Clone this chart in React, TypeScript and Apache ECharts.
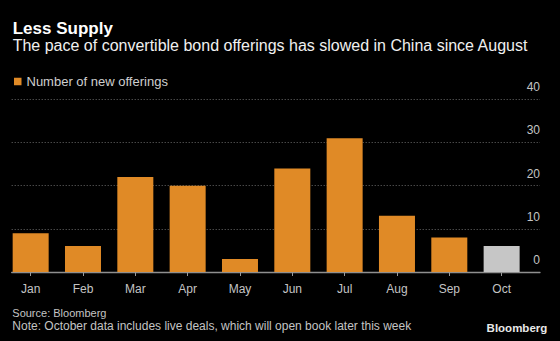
import React, { useEffect, useRef } from "react";
import * as echarts from "echarts";

const months = ["Jan", "Feb", "Mar", "Apr", "May", "Jun", "Jul", "Aug", "Sep", "Oct"];
const newOfferings = [9, 6, 22, 20, 3, 24, 31, 13, 8, 6];
const liveMonth = "Oct";
const yMin = 0;
const yMax = 40;
const yInterval = 10;

const titleText = "Less Supply";
const subtitleText = "The pace of convertible bond offerings has slowed in China since August";
const legendName = "Number of new offerings";
const sourceText = "Source: Bloomberg";
const noteText = "Note: October data includes live deals, which will open book later this week";
const brandText = "Bloomberg";

const ORANGE = "#e08a26";
const GREY_BAR = "#c6c6c6";
const FONT = "'Liberation Sans', Arial, sans-serif";

export default function App() {
  const ref = useRef<HTMLDivElement>(null);

  useEffect(() => {
    document.body.style.margin = "0";
    document.body.style.background = "#000";
    if (!ref.current) return;
    const chart = echarts.init(ref.current, undefined, { renderer: "svg" });

    const barData = newOfferings.map((v, i) =>
      months[i] === liveMonth ? { value: v, itemStyle: { color: GREY_BAR } } : v
    );

    chart.setOption({
      animation: false,
      backgroundColor: "#000",
      textStyle: { fontFamily: FONT },
      legend: {
        data: [{ name: legendName, icon: "rect" }],
        left: 14,
        top: 75,
        padding: 0,
        itemWidth: 7.5,
        itemHeight: 7.5,
        itemGap: 5,
        textStyle: { color: "#cfcfcf", fontSize: 13, fontFamily: FONT },
      },
      grid: [
        { left: 11.7, right: 20, top: 99.3, bottom: 69, containLabel: false },
        { left: 4.5, right: 32.2, top: 99.3, bottom: 69, containLabel: false },
      ],
      xAxis: [
        {
          gridIndex: 0,
          type: "value",
          min: 0,
          max: 1,
          axisLine: { show: true, lineStyle: { color: "#8f8f8f", width: 1.3 } },
          axisTick: { show: false },
          axisLabel: { show: false },
          splitLine: { show: false },
        },
        {
          gridIndex: 1,
          type: "category",
          data: months,
          axisLine: { show: false },
          axisTick: {
            show: true,
            alignWithLabel: true,
            length: 4,
            lineStyle: { color: "#9a9a9a", width: 1 },
          },
          axisLabel: { color: "#c4c4c4", fontSize: 12, margin: 11, fontFamily: FONT },
        },
      ],
      yAxis: [
        {
          gridIndex: 0,
          type: "value",
          position: "right",
          min: yMin,
          max: yMax,
          interval: yInterval,
          axisLine: { show: false },
          axisTick: { show: false },
          axisLabel: {
            inside: true,
            margin: 0,
            color: "#c4c4c4",
            fontSize: 12,
            verticalAlign: "bottom",
            padding: [0, 0, 6, 0],
            fontFamily: FONT,
          },
          splitLine: { show: true, lineStyle: { color: "#6a6a6a", width: 1, type: [1, 2] } },
        },
        {
          gridIndex: 1,
          type: "value",
          min: yMin,
          max: yMax,
          interval: yInterval,
          show: false,
          splitLine: { show: false },
        },
      ],
      series: [
        {
          name: legendName,
          type: "bar",
          xAxisIndex: 1,
          yAxisIndex: 1,
          data: barData,
          barWidth: 36,
          itemStyle: { color: ORANGE },
          z: 1,
        },
      ],
      graphic: [
        {
          type: "text",
          x: 12.7,
          y: 28,
          style: {
            text: titleText,
            fill: "#ffffff",
            font: `bold 17px ${FONT}`,
            verticalAlign: "middle",
            align: "left",
          },
        },
        {
          type: "text",
          x: 12.7,
          y: 45,
          style: {
            text: subtitleText,
            fill: "#f0f0f0",
            font: `16px ${FONT}`,
            verticalAlign: "middle",
            align: "left",
          },
        },
        {
          type: "text",
          x: 12.3,
          y: 313.3,
          style: {
            text: sourceText,
            fill: "#c4c4c4",
            font: `11px ${FONT}`,
            verticalAlign: "middle",
            align: "left",
          },
        },
        {
          type: "text",
          x: 12.3,
          y: 326,
          style: {
            text: noteText,
            fill: "#c4c4c4",
            font: `12px ${FONT}`,
            verticalAlign: "middle",
            align: "left",
          },
        },
        {
          type: "text",
          x: 547.3,
          y: 328.3,
          style: {
            text: brandText,
            fill: "#e8e8e8",
            font: `bold 11.5px ${FONT}`,
            verticalAlign: "middle",
            align: "right",
          },
        },
      ],
    });

    return () => {
      chart.dispose();
    };
  }, []);

  return <div ref={ref} style={{ width: 560, height: 341, background: "#000" }} />;
}
